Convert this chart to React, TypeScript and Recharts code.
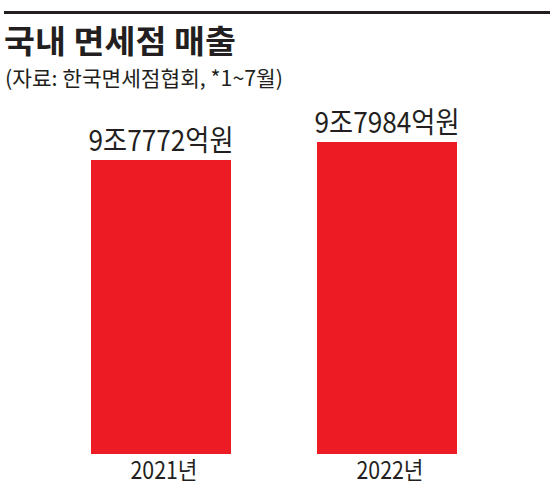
import React, { useLayoutEffect, useRef, useState } from 'react';
import { BarChart, Bar, XAxis, YAxis, LabelList } from 'recharts';

const categories = ['2021년', '2022년'];
const salesEok = [97772, 97984];
const titleText = '국내 면세점 매출';
const subtitleText = '(자료: 한국면세점협회, *1~7월)';

const data = categories.map((c, i) => ({ year: c, sales: salesEok[i] }));

const FONT = '"Noto Sans CJK KR", "Noto Sans", sans-serif';
const TEXT_COLOR = '#231f20';
const BAR_COLOR = '#ed1c24';

const fmt = (v: number) => `${Math.floor(v / 10000)}조${v % 10000}억원`;

const FitText = ({ text, width, style }: { text: string; width: number; style: React.CSSProperties }) => {
  const ref = useRef<HTMLSpanElement>(null);
  const [scale, setScale] = useState(1);
  useLayoutEffect(() => {
    if (ref.current) {
      const w = ref.current.getBoundingClientRect().width;
      if (w > 0) setScale(width / w);
    }
  }, [text, width]);
  return (
    <div style={{ ...style, position: 'absolute', whiteSpace: 'nowrap', overflow: 'visible' }}>
      <span
        ref={ref}
        style={{ display: 'inline-block', transform: `scaleX(${scale})`, transformOrigin: 'left center' }}
      >
        {text}
      </span>
    </div>
  );
};

const ValueLabel = (props: any) => {
  const { x, y, width, value } = props;
  return (
    <text
      x={Number(x) + Number(width) / 2}
      y={Number(y) - 9}
      textAnchor="middle"
      fontFamily={FONT}
      fontSize={29}
      fill={TEXT_COLOR}
      textLength={145}
      lengthAdjust="spacingAndGlyphs"
    >
      {fmt(Number(value))}
    </text>
  );
};

const YearTick = (props: any) => {
  const { x, y, payload } = props;
  return (
    <text
      x={Number(x) + 3}
      y={Number(y) + 19}
      textAnchor="middle"
      fontFamily={FONT}
      fontSize={24}
      fill={TEXT_COLOR}
      textLength={67}
      lengthAdjust="spacingAndGlyphs"
    >
      {payload.value}
    </text>
  );
};

export default function App() {
  return (
    <div style={{ position: 'absolute', left: 0, top: 0, width: 550, height: 491, background: '#fff', fontFamily: FONT, color: TEXT_COLOR }}>
      <div style={{ position: 'absolute', left: 4, top: 11, width: 546, height: 2.5, background: '#231f20' }} />
      <FitText
        text={titleText}
        width={232}
        style={{ left: 4, top: 23, height: 32, lineHeight: '32px', fontSize: 32, fontWeight: 700 }}
      />
      <FitText
        text={subtitleText}
        width={278}
        style={{ left: 5, top: 67, height: 21, lineHeight: '21px', fontSize: 21, fontWeight: 400 }}
      />
      <div style={{ position: 'absolute', left: 0, top: 0 }}>
        <BarChart width={550} height={491} data={data} margin={{ top: 100, right: 50, bottom: 0, left: 48 }} barCategoryGap={0}>
          <XAxis dataKey="year" height={37} axisLine={false} tickLine={false} tickMargin={0} tick={<YearTick />} interval={0} />
          <YAxis hide domain={[94300, 98480]} allowDataOverflow />
          <Bar dataKey="sales" fill={BAR_COLOR} barSize={140} isAnimationActive={false}>
            <LabelList dataKey="sales" content={<ValueLabel />} />
          </Bar>
        </BarChart>
      </div>
    </div>
  );
}
